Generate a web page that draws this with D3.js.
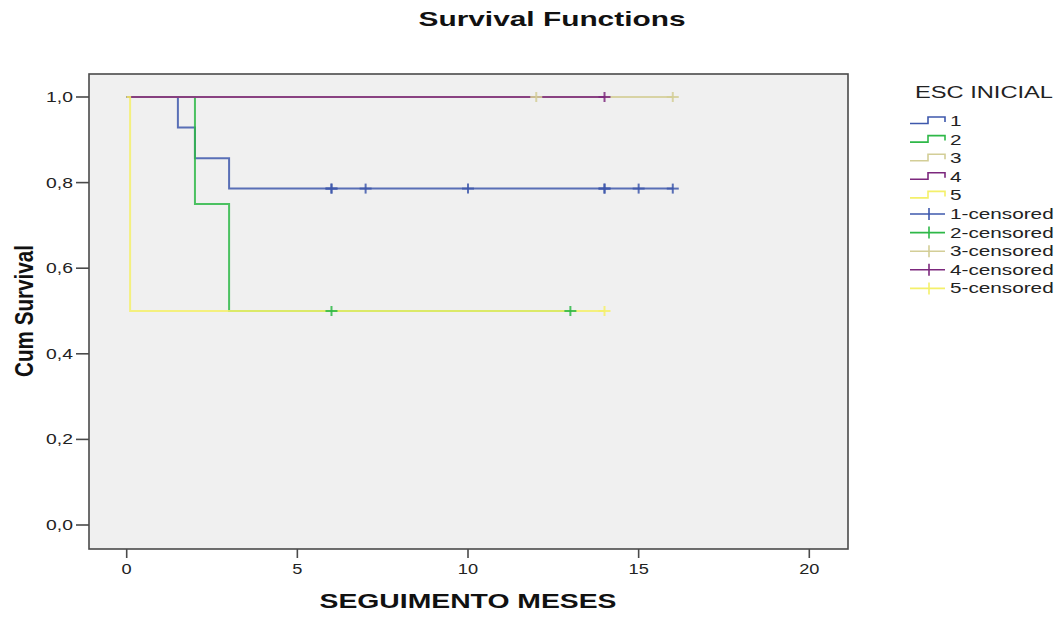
<!DOCTYPE html>
<html><head><meta charset="utf-8">
<script src="https://cdn.jsdelivr.net/npm/d3@7"></script>
<style>body{margin:0;background:#fff}svg{display:block}text{font-family:"Liberation Sans",Arial,sans-serif}</style>
</head><body>
<svg id="c" width="1063" height="618"></svg>
<script>
// ---- data ----
const groups = ["1","2","3","4","5"];
const colors = ["#3E58AC","#2EB848","#D3CE97","#7C287D","#F4F06A"];
// step curves: event times and survival after each event, plus end time
const stepTimes = [[1.5,2,3],[2,3],[],[],[0.1]];
const stepSurv = [[0.929,0.857,0.786],[0.75,0.5],[],[],[0.5]];
const endTimes = [16,13,16,14,14];
// censored observations
const censTimes = [[6,6,7,10,14,14,15,16],[6,13],[12,16],[14],[14]];
const xTicks = [0,5,10,15,20];
const yTicks = [0,0.2,0.4,0.6,0.8,1.0];
const legendLabels = ["1","2","3","4","5","1-censored","2-censored","3-censored","4-censored","5-censored"];

const svg = d3.select("#c");
const x = d3.scaleLinear().domain([0,20]).range([126.7,809.3]);
const y = d3.scaleLinear().domain([0,1]).range([525,97]);

function stretch(sel, f){ sel.each(function(){ const w=this.getComputedTextLength(); d3.select(this).attr("textLength",w*f).attr("lengthAdjust","spacingAndGlyphs");}); }
function fitTo(sel, w){ sel.attr("textLength",w).attr("lengthAdjust","spacingAndGlyphs"); }

// plot area
svg.append("rect").attr("x",89).attr("y",74).attr("width",759).attr("height",475)
  .attr("fill","#F0F0F0").attr("stroke","#4a4a4a").attr("stroke-width",1.6);

// title
fitTo(svg.append("text").attr("x",552).attr("y",25.5).attr("text-anchor","middle")
  .attr("font-size",20.5).attr("font-weight","bold").attr("fill","#111").text("Survival Functions"),267);

// x axis ticks
const xg = svg.append("g");
xg.selectAll("line").data(xTicks).join("line").attr("x1",d=>x(d)).attr("x2",d=>x(d))
  .attr("y1",549).attr("y2",558).attr("stroke","#4a4a4a").attr("stroke-width",1.6);
stretch(xg.selectAll("text").data(xTicks).join("text").attr("x",d=>x(d)).attr("y",573.5)
  .attr("text-anchor","middle").attr("font-size",14).attr("fill","#222").text(d=>d),1.3);
// y axis ticks
const yg = svg.append("g");
yg.selectAll("line").data(yTicks).join("line").attr("x1",76).attr("x2",89)
  .attr("y1",d=>y(d)).attr("y2",d=>y(d)).attr("stroke","#4a4a4a").attr("stroke-width",1.6);
stretch(yg.selectAll("text").data(yTicks).join("text").attr("x",73).attr("y",d=>y(d)+5)
  .attr("text-anchor","end").attr("font-size",14).attr("fill","#222").text(d=>d.toFixed(1).replace(".",",")),1.38);

// axis titles
fitTo(svg.append("text").attr("x",468).attr("y",607.5).attr("text-anchor","middle")
  .attr("font-size",20).attr("font-weight","bold").attr("fill","#111").text("SEGUIMENTO MESES"),297);
fitTo(svg.append("text").attr("transform","translate(33,311) scale(1.38,1) rotate(-90)")
  .attr("text-anchor","middle").attr("font-size",18).attr("font-weight","bold").attr("fill","#111").text("Cum Survival"),132);

// curves
const lineGen = d3.line().x(d=>x(d[0])).y(d=>y(d[1])).curve(d3.curveStepAfter);
const curves = svg.append("g");
groups.forEach((g,i)=>{
  const pts=[[0,1]];
  stepTimes[i].forEach((t,j)=>pts.push([t,stepSurv[i][j]]));
  const last = pts[pts.length-1][1];
  pts.push([endTimes[i], last]);
  curves.append("path").attr("d",lineGen(pts)).attr("fill","none")
    .attr("stroke",colors[i]).attr("stroke-width",2).attr("stroke-opacity",0.85);
});
// censored marks
function survAt(i,t){ let s=1; stepTimes[i].forEach((tt,j)=>{ if(tt<=t) s=stepSurv[i][j];}); return s; }
const cens = svg.append("g");
groups.forEach((g,i)=>{
  censTimes[i].forEach(t=>{
    const cx=x(t), cy=y(survAt(i,t));
    cens.append("line").attr("x1",cx).attr("x2",cx).attr("y1",cy-5).attr("y2",cy+5)
      .attr("stroke",colors[i]).attr("stroke-width",2).attr("stroke-opacity",0.85);
    cens.append("line").attr("x1",cx-6).attr("x2",cx+6).attr("y1",cy).attr("y2",cy)
      .attr("stroke",colors[i]).attr("stroke-width",2).attr("stroke-opacity",0.85);
  });
});

// legend
const lg = svg.append("g");
fitTo(lg.append("text").attr("x",915).attr("y",98).attr("font-size",16).attr("fill","#222").text("ESC INICIAL"),138);
legendLabels.forEach((lab,k)=>{
  const ry = 121 + k*18.6;
  const c = colors[k%5];
  if(k<5){
    lg.append("path").attr("d",`M910,${ry+2.5}H928V${ry-4}H945V${ry+1}`).attr("fill","none")
      .attr("stroke",c).attr("stroke-width",1.6);
  } else {
    lg.append("line").attr("x1",910).attr("x2",945).attr("y1",ry).attr("y2",ry).attr("stroke",c).attr("stroke-width",1.6);
    lg.append("line").attr("x1",929).attr("x2",929).attr("y1",ry-6).attr("y2",ry+6).attr("stroke",c).attr("stroke-width",1.6);
  }
  const t = lg.append("text").attr("x",950).attr("y",ry+5).attr("font-size",14).attr("fill","#222").text(lab);
  stretch(t,1.48);
});
</script>
</body></html>
